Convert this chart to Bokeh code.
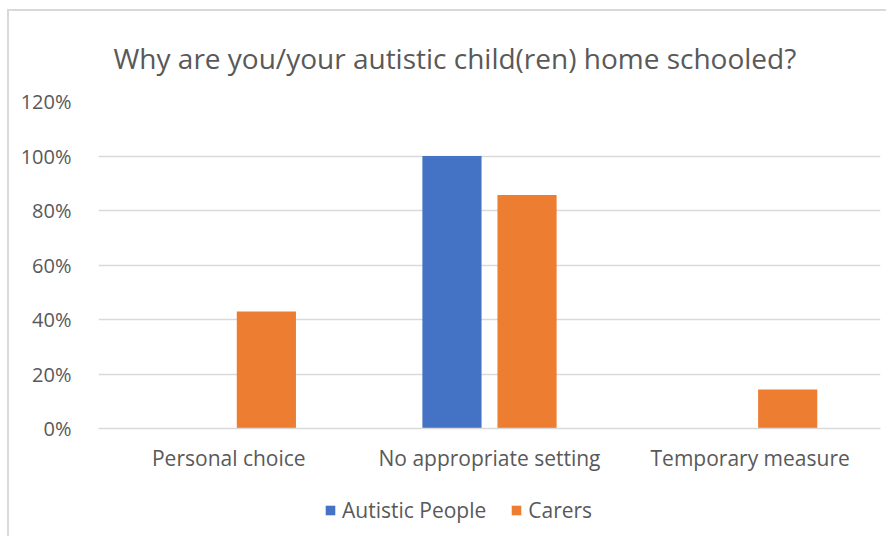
import numpy as np
from bokeh.plotting import figure
from bokeh.layouts import column
from bokeh.models import ColumnDataSource, FactorRange, NumeralTickFormatter, FixedTicker, Legend, LegendItem
from bokeh.transform import dodge
from bokeh.embed import file_html
from bokeh.resources import INLINE

categories = ["Personal choice", "No appropriate setting", "Temporary measure"]
autistic_people = [0.0, 1.0, 0.0]
carers = [0.429, 0.857, 0.143]
y_ticks = [0, 0.2, 0.4, 0.6, 0.8, 1.0, 1.2]
series_names = ["Autistic People", "Carers"]
series_colors = ["#4472c4", "#ed7d31"]

src = ColumnDataSource(dict(cat=categories, ap=autistic_people, car=carers))

FONT = "Open Sans"
GREY = "#595959"
BORDER = "2px solid #d9d9d9"

p = figure(x_range=FactorRange(*categories, range_padding=0), y_range=(0, 1.2),
           frame_width=780, frame_height=325, output_backend="svg", toolbar_location=None,
           min_border_left=89, min_border_right=8, min_border_top=90, min_border_bottom=58)
p.styles = {"border-left": BORDER, "border-top": BORDER, "margin-left": "7px", "margin-top": "9px"}

r1 = p.vbar(x=dodge("cat", -0.144, range=p.x_range), top="ap", width=0.227, source=src,
            fill_color=series_colors[0], line_color=None)
r2 = p.vbar(x=dodge("cat", 0.144, range=p.x_range), top="car", width=0.227, source=src,
            fill_color=series_colors[1], line_color=None)

p.title.text = "Why are you/your autistic child(ren) home schooled?"
p.title.align = "left"
p.title.offset = 15
p.title.text_font = FONT
p.title.text_font_size = "28px"
p.title.text_font_style = "normal"
p.title.text_color = GREY
p.title.standoff = 50

p.outline_line_color = None
p.xgrid.grid_line_color = None
p.ygrid.ticker = FixedTicker(ticks=y_ticks)
p.ygrid.grid_line_color = "#d9d9d9"
p.ygrid.grid_line_width = 1.5

p.yaxis.ticker = FixedTicker(ticks=y_ticks)
p.yaxis.formatter = NumeralTickFormatter(format="0%")
p.yaxis.axis_line_color = None
p.yaxis.major_tick_line_color = None
p.yaxis.minor_tick_line_color = None
p.yaxis.major_label_text_font = FONT
p.yaxis.major_label_text_font_size = "20px"
p.yaxis.major_label_text_color = GREY
p.yaxis.major_label_standoff = 21

p.xaxis.axis_line_color = "#d9d9d9"
p.xaxis.axis_line_width = 1.5
p.xaxis.major_tick_line_color = None
p.xaxis.minor_tick_line_color = None
p.xaxis.major_label_text_font = FONT
p.xaxis.major_label_text_font_size = "21px"
p.xaxis.major_label_text_color = GREY
p.xaxis.major_label_standoff = 9

# legend strip below the chart (proxy renderers hold NaN, so they draw nothing in the strip)
leg = figure(width=879, height=52, x_range=(0, 1), y_range=(0, 1),
             x_axis_type=None, y_axis_type=None, output_backend="svg", toolbar_location=None,
             min_border=0)
leg.styles = {"border-left": BORDER, "margin-left": "7px"}
leg.outline_line_color = None
leg.xgrid.grid_line_color = None
leg.ygrid.grid_line_color = None
proxy = ColumnDataSource(dict(x=np.array([np.nan]), top=np.array([np.nan])))
lr1 = leg.vbar(x="x", top="top", width=0.1, source=proxy, fill_color=series_colors[0], line_color=None)
lr2 = leg.vbar(x="x", top="top", width=0.1, source=proxy, fill_color=series_colors[1], line_color=None)

legend = Legend(items=[LegendItem(label=series_names[0], renderers=[lr1]),
                       LegendItem(label=series_names[1], renderers=[lr2])],
                orientation="horizontal", location=(226, 12),
                label_text_font=FONT, label_text_font_size="21px", label_text_color=GREY,
                glyph_width=12, glyph_height=12, spacing=24, border_line_color=None,
                background_fill_alpha=0, margin=0, padding=0, label_standoff=6)
leg.add_layout(legend)

layout = column(p, leg, spacing=0)
open("out.html", "w").write(file_html(layout, INLINE))
